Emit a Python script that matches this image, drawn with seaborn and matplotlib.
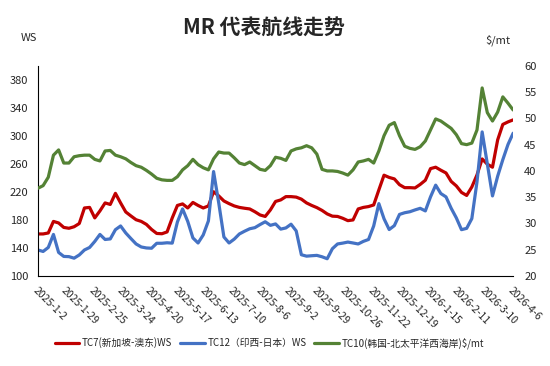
import pandas as pd
import matplotlib
matplotlib.use("Agg")
import matplotlib.pyplot as plt
import seaborn as sns

# 日期轴：2025-1-2 至 2026-4-6
dates = pd.date_range("2025-01-02", "2026-04-06", periods=93)

# TC7 新加坡-澳东 (WS)
tc7 = [160, 160, 161.4, 177.9, 175.7, 169.3, 168.1, 170.3, 174.9, 197.1,
       197.9, 182.9, 192.9, 204.3, 202.1, 218, 204.3, 191.4, 185.7, 180.3,
       177.9, 173.6, 166.4, 160.7, 160.3, 162.9, 182.9, 200.7, 202.9, 197.1,
       205, 200.7, 197.1, 200, 220.3, 214.3, 207.1, 203.3, 200, 197.9,
       196.7, 195.7, 191.7, 187.1, 185, 194.3, 206.4, 208.6, 213.3, 213.3,
       212.6, 209.7, 204.3, 200.7, 197.6, 193.6, 188.6, 185.4, 185, 182.4,
       179, 180, 195.7, 197.9, 199.1, 201.4, 222.9, 243.9, 240.7, 238.6,
       230.3, 226.1, 226.1, 225.7, 230.7, 236.7, 253.3, 255.3, 251, 247.1,
       235, 228.6, 219.3, 215, 227.1, 244.3, 267.1, 259.6, 255.3, 294.3,
       316.4, 320, 322.9]

# TC12 印西-日本 (WS)
tc12 = [137.1, 135, 140.7, 159.3, 133.6, 127.9, 127.6, 125.4, 130, 137.1,
        140.7, 149.3, 159.3, 152.1, 152.9, 166.1, 171.4, 161.4, 153.4, 145.7,
        141.4, 140, 139.6, 146.7, 146.7, 147.4, 146.9, 177.1, 195.7, 177.9,
        154.3, 147.1, 158.6, 178.6, 249.1, 204.3, 155.7, 147.1, 152.6, 160,
        163.9, 167.4, 169, 173.4, 177.4, 172.3, 174.3, 166.9, 168.6, 173.9,
        164.3, 130.3, 128.3, 128.9, 129.4, 127.4, 124.6, 138.9, 145.7, 146.9,
        148.4, 147.1, 145.7, 149.4, 152.1, 171.4, 203.3, 181.7, 166.3, 171.9,
        187.9, 190.3, 191.7, 194.3, 196.6, 192.9, 212.9, 229.7, 217.7, 212.9,
        196.7, 182.9, 166.1, 168, 181.9, 234.3, 305.7, 260, 214.3, 242.4,
        266.1, 287.7, 303.9]

# TC10 韩国-北太平洋西海岸 ($/mt)
tc10 = [36.7, 37.2, 38.8, 43.0, 44.0, 41.5, 41.5, 42.7, 42.9, 43.0,
        43.0, 42.2, 41.9, 43.8, 43.9, 43.0, 42.7, 42.3, 41.6, 41.0,
        40.7, 40.1, 39.4, 38.6, 38.3, 38.2, 38.2, 38.9, 40.2, 41.0,
        42.2, 41.2, 40.6, 40.2, 42.3, 43.6, 43.4, 43.4, 42.5, 41.5,
        41.2, 41.7, 41.0, 40.3, 40.1, 41.0, 42.6, 42.4, 42.0, 43.8,
        44.2, 44.4, 44.8, 44.4, 43.2, 40.3, 40.0, 40.0, 39.9, 39.6,
        39.2, 40.2, 41.7, 41.9, 42.2, 41.5, 43.8, 46.7, 48.7, 49.2,
        46.7, 44.7, 44.3, 44.1, 44.6, 45.7, 47.8, 49.9, 49.5, 48.8,
        48.1, 46.9, 45.2, 45.0, 45.3, 47.8, 55.8, 51.1, 49.5, 51.2,
        54.1, 52.9, 51.6]

labels = ["TC7(新加坡-澳东)WS", "TC12（印西-日本）WS", "TC10(韩国-北太平洋西海岸)$/mt"]
colors = ["#C00000", "#4472C4", "#548235"]

df = pd.DataFrame({"date": dates, "tc7": tc7, "tc12": tc12, "tc10": tc10})

sns.set_style("white")
plt.rcParams["font.family"] = ["Noto Sans CJK SC", "DejaVu Sans"]

fig, ax = plt.subplots(figsize=(5.5, 3.66), dpi=100)
fig.subplots_adjust(left=0.069, right=0.933, bottom=0.246, top=0.82)
ax2 = ax.twinx()

sns.lineplot(data=df, x="date", y="tc7", ax=ax, color=colors[0], linewidth=2.3)
sns.lineplot(data=df, x="date", y="tc12", ax=ax, color=colors[1], linewidth=2.3)
sns.lineplot(data=df, x="date", y="tc10", ax=ax2, color=colors[2], linewidth=2.3)

# 坐标轴
ax.set_ylim(100, 400)
ax.set_yticks(range(100, 381, 40))
ax2.set_ylim(20, 60)
ax2.set_yticks(range(20, 61, 5))
ax.set_xlim(dates[0], dates[-1])

tick_dates = pd.date_range("2025-01-02", "2026-04-06", freq="27D")
ax.set_xticks(tick_dates)
ax.set_xticklabels([f"{d.year}-{d.month}-{d.day}" for d in tick_dates],
                   rotation=-45, ha="left", va="top", rotation_mode="anchor", fontsize=7.5)

for a in (ax, ax2):
    a.set_xlabel("")
    a.set_ylabel("")
    for s in a.spines.values():
        s.set_visible(False)
ax.spines["left"].set_visible(True)
ax.spines["bottom"].set_visible(True)
ax.spines["left"].set_color("black")
ax.spines["bottom"].set_color("black")

ax.tick_params(axis="y", length=0, labelsize=8, pad=7)
ax.tick_params(axis="x", length=0, pad=7)
ax2.tick_params(axis="y", length=0, labelsize=8, pad=8)

fig.text(0.053, 0.895, "WS", fontsize=8, ha="center", va="center")
fig.text(0.905, 0.89, "$/mt", fontsize=8, ha="center", va="center")
fig.suptitle("MR 代表航线走势", x=0.48, y=0.926, va="center", fontsize=15, fontweight="bold")

handles = ax.get_lines()[:2] + ax2.get_lines()[:1]
fig.legend(handles, labels, loc="center", bbox_to_anchor=(0.49, 0.063), ncol=3,
           frameon=False, fontsize=7, handlelength=2.5, columnspacing=0.8, handletextpad=0.3)

plt.savefig("out.png", dpi=100)
